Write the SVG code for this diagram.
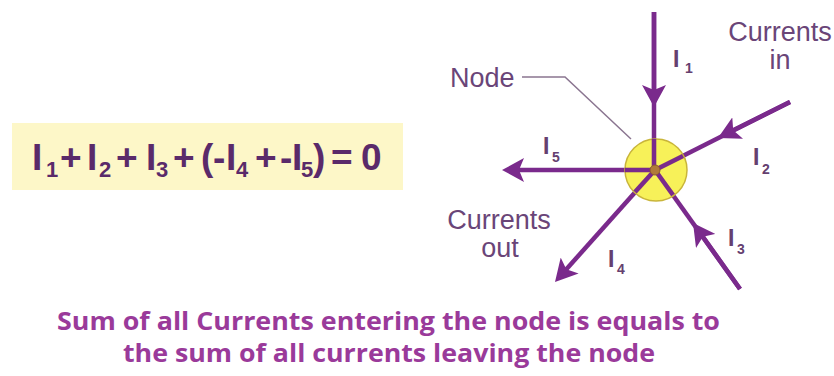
<svg xmlns="http://www.w3.org/2000/svg" width="834" height="376" viewBox="0 0 834 376">
<style>
.wire{stroke:#7a2a8c;stroke-width:4.5;fill:none}
.lbl{font-family:"Liberation Sans",Arial,sans-serif;font-size:27px;fill:#6a4578}
.il{font-family:"Liberation Sans",Arial,sans-serif;font-weight:bold;font-size:23px;fill:#65406f}
.is{font-family:"Liberation Sans",Arial,sans-serif;font-weight:bold;font-size:14px;fill:#65406f}
.eq{font-family:"Liberation Sans",Arial,sans-serif;font-weight:bold;font-size:37px;fill:#5a2a6a}
.eqs{font-family:"Liberation Sans",Arial,sans-serif;font-weight:bold;font-size:22px;fill:#5a2a6a}
.note{font-family:"Open Sans","Liberation Sans",Arial,sans-serif;font-weight:bold;font-size:25px;fill:#9a3a9a}
</style>
<defs>
<marker id="ah" markerUnits="userSpaceOnUse" viewBox="0 -12 22 24" refX="10" refY="0" markerWidth="22" markerHeight="24" orient="auto">
<path d="M0,-12 L22,0 L0,12 L5,0 Z" fill="#7a2a8c"/>
</marker>
</defs>
<rect width="834" height="376" fill="#ffffff"/>
<g id="equation">
<rect x="12" y="123" width="391" height="67" fill="#fdf7c8"/>
<text class="eq" x="32" y="170">I</text><text class="eqs" x="46" y="177">1</text>
<text class="eq" x="60" y="170">+</text>
<text class="eq" x="87" y="170">I</text><text class="eqs" x="99" y="177">2</text>
<text class="eq" x="116" y="170">+</text>
<text class="eq" x="146" y="170">I</text><text class="eqs" x="156" y="177">3</text>
<text class="eq" x="173" y="170">+</text>
<text class="eq" x="201" y="170">(</text><text class="eq" x="213" y="170">-</text>
<text class="eq" x="226" y="170">I</text><text class="eqs" x="236" y="177">4</text>
<text class="eq" x="255" y="170">+</text>
<text class="eq" x="280" y="170">-</text>
<text class="eq" x="292" y="170">I</text><text class="eqs" x="301" y="177">5</text>
<text class="eq" x="313" y="170">)</text>
<text class="eq" x="331" y="170">=</text>
<text class="eq" x="361" y="170">0</text>
</g>
<g id="connectors">
<line class="wire" x1="654" y1="12" x2="654" y2="170"/>
<line class="wire" x1="654" y1="12" x2="654" y2="95" marker-end="url(#ah)"/>
<line class="wire" x1="790" y1="102" x2="655" y2="170"/>
<line class="wire" x1="790" y1="102" x2="728.7" y2="132.6" marker-end="url(#ah)"/>
<line class="wire" x1="740" y1="289" x2="655" y2="170"/>
<line class="wire" x1="740" y1="289" x2="700" y2="232.8" marker-end="url(#ah)"/>
<line class="wire" x1="655" y1="170" x2="563" y2="273" marker-end="url(#ah)"/>
<line class="wire" x1="655" y1="170" x2="514" y2="170" marker-end="url(#ah)"/>
<polyline points="522,77 565,77 631,139" fill="none" stroke="#8a7590" stroke-width="1.5"/>
</g>
<g id="node">
<circle cx="656" cy="170" r="31" fill="#f6ee3c" stroke="#c9b53a" stroke-width="1.5" fill-opacity="0.85"/>
<line class="wire" x1="654" y1="139" x2="654" y2="170"/>
<line class="wire" x1="625" y1="170" x2="655" y2="170"/>
<line class="wire" x1="655" y1="170" x2="683" y2="156"/>
<line class="wire" x1="655" y1="170" x2="673" y2="195"/>
<line class="wire" x1="655" y1="170" x2="635" y2="192"/>
<circle cx="655" cy="170" r="5" fill="#b07a3a" stroke="#8a5a30" stroke-width="1"/>
<text class="lbl" x="450" y="87">Node</text>
</g>
<g id="labels">
<text class="il" x="673" y="67">I</text><text class="is" x="685" y="73">1</text>
<text class="il" x="753" y="165">I</text><text class="is" x="762" y="174">2</text>
<text class="il" x="728" y="246">I</text><text class="is" x="737" y="254">3</text>
<text class="il" x="608" y="267">I</text><text class="is" x="617" y="274">4</text>
<text class="il" x="543" y="154">I</text><text class="is" x="552" y="162">5</text>
<text class="lbl" x="780" y="41" text-anchor="middle">Currents</text>
<text class="lbl" x="780" y="69" text-anchor="middle">in</text>
<text class="lbl" x="499" y="229" text-anchor="middle">Currents</text>
<text class="lbl" x="500" y="257" text-anchor="middle">out</text>
</g>
<g id="caption">
<text class="note" x="57" y="330" textLength="663" lengthAdjust="spacingAndGlyphs">Sum of all Currents entering the node is equals to</text>
<text class="note" x="123" y="362" textLength="532" lengthAdjust="spacingAndGlyphs">the sum of all currents leaving the node</text>
</g>
</svg>
